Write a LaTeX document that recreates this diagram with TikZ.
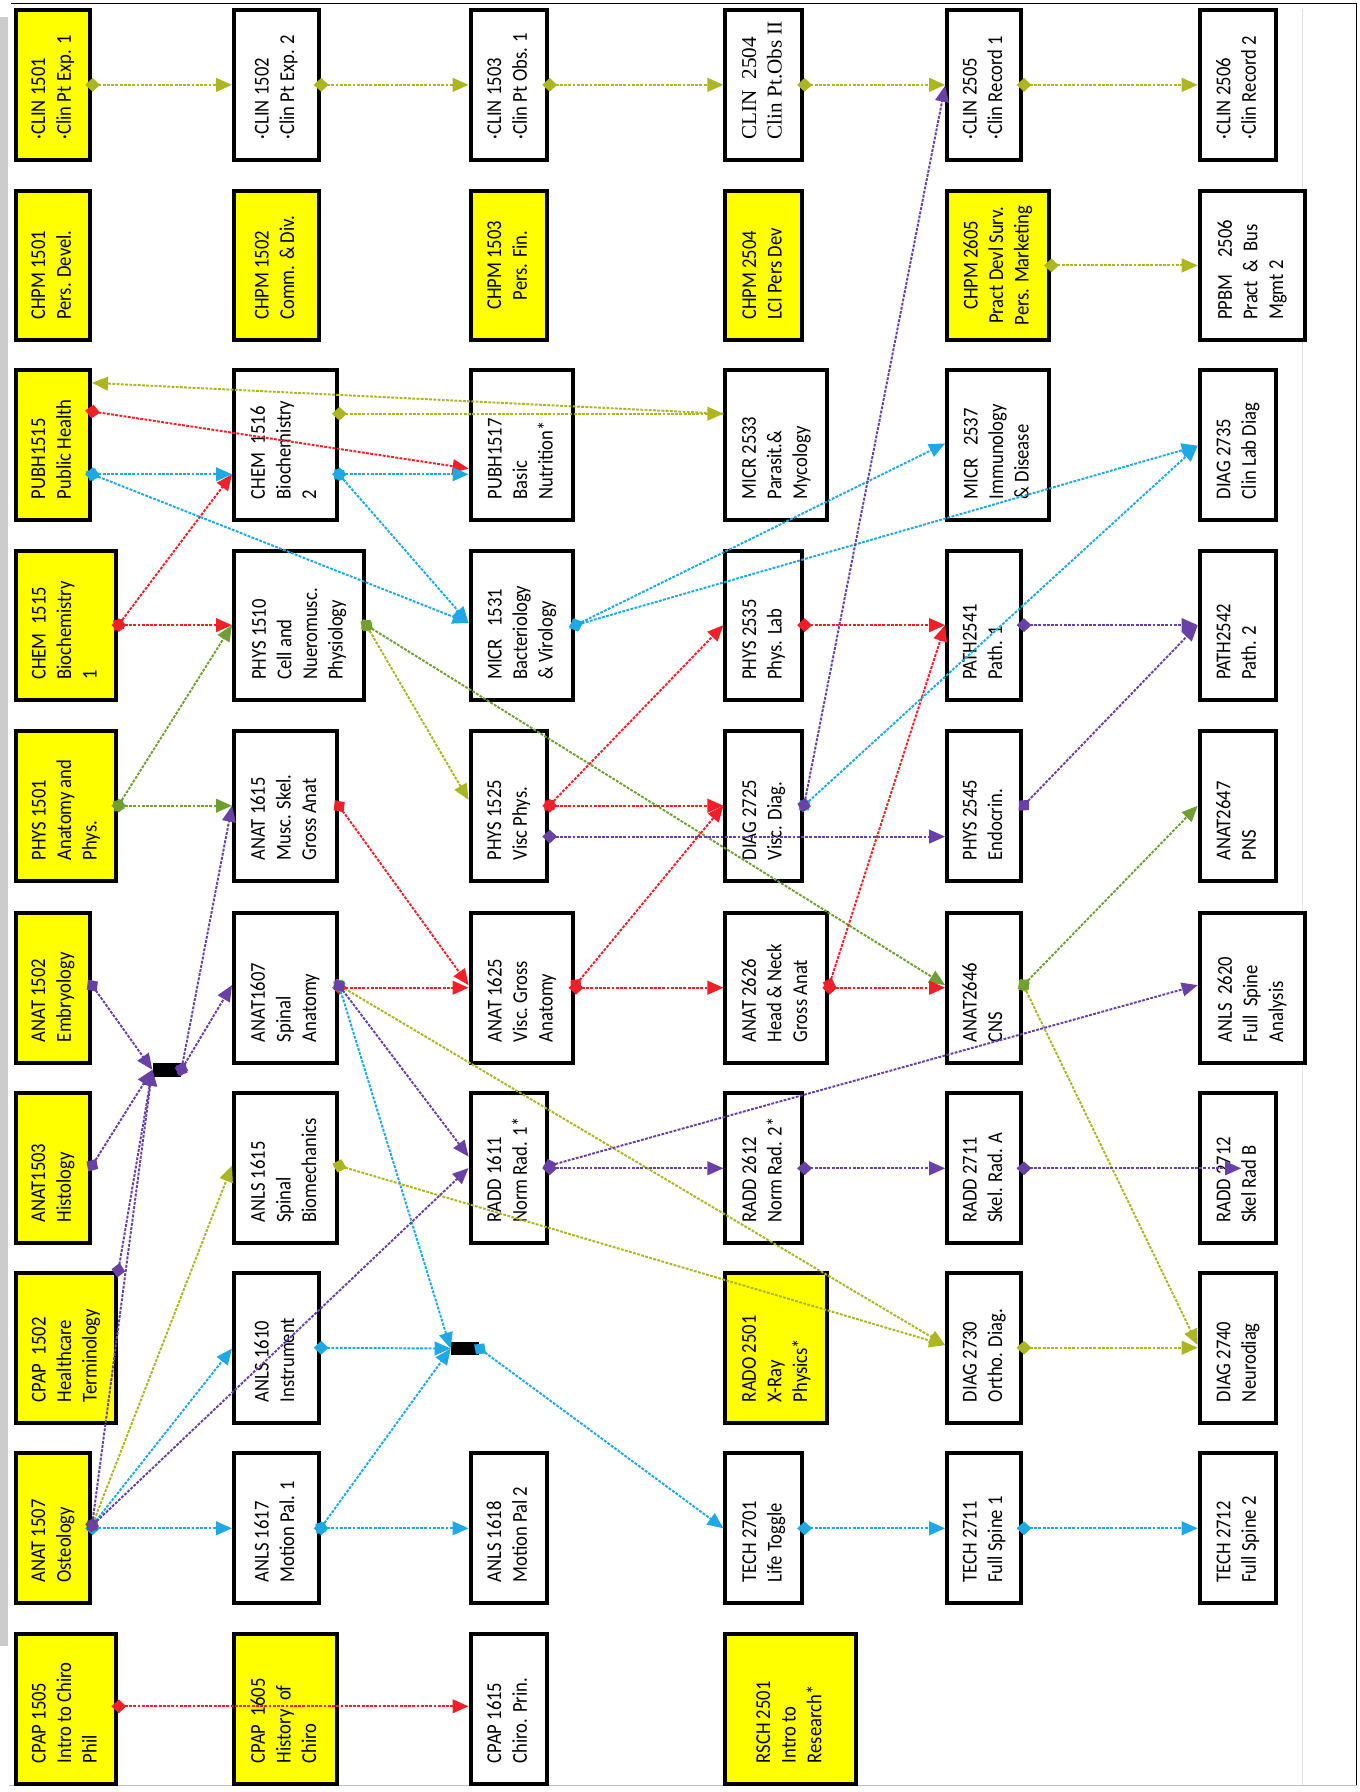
\documentclass[tikz,border=0pt]{standalone}
\usepackage{fontspec}
\setmainfont{Carlito}[FakeStretch=0.88]
\newfontfamily\timesf{Liberation Serif}
\usepackage{graphicx}
\usetikzlibrary{arrows.meta,calc}
\definecolor{cO}{RGB}{172,182,32}
\definecolor{cG}{RGB}{112,160,52}
\definecolor{cR}{RGB}{240,32,40}
\definecolor{cC}{RGB}{30,168,228}
\definecolor{cP}{RGB}{104,64,166}
\definecolor{yel}{RGB}{255,255,0}
\newcommand{\txl}[1]{\rotatebox{90}{\makebox[95pt][l]{\begin{tabular}{@{}l@{}}#1\end{tabular}}}}
\newcommand{\txc}[1]{\rotatebox{90}{\makebox[95pt][c]{\begin{tabular}{@{}c@{}}#1\end{tabular}}}}
\tikzset{
  box/.style={draw=black, line width=3.5pt, fill=white, anchor=north west,
    minimum height=131pt, inner sep=0pt, font=\fontsize{18.5}{22.4}\selectfont},
  yb/.style={box, fill=yel},
  cn/.style={line width=1.7pt, dash pattern=on 2.5pt off 1.2pt, shorten <=-6pt,
    {Diamond[length=13pt,width=12pt]}-{Triangle[length=14pt,width=12pt]}},
  ce/.style={line width=1.7pt, dash pattern=on 2.5pt off 1.2pt,
    -{Triangle[length=14pt,width=12pt]}},
  jn/.style={fill=black, minimum width=25pt, minimum height=12pt, inner sep=0pt}
}
\begin{document}
\begin{tikzpicture}[x=1pt,y=-1pt]
\fill[white] (0,0) rectangle (1190,1568);
\useasboundingbox (0,0) rectangle (1190,1568);
% frame
\fill[gray!40] (0,15) rectangle (7,1440);
\draw[gray!25, line width=1pt] (1140,8) -- (1140,1562);
\draw[gray!50, line width=1pt] (8,1562) -- (1187,1562);
\draw[line width=1.5pt] (10,3) -- (1187,3) -- (1187,1562);

% column A
\node[yb, minimum width=65pt] (clin1501) at (12,7) {\txl{·CLIN 1501\\·Clin Pt Exp. 1}};
\node[yb, minimum width=65pt] (chpm1501) at (12,165) {\txl{CHPM 1501\\Pers. Devel.}};
\node[yb, minimum width=65pt] (pubh1515) at (12,322) {\txl{PUBH1515\\Public Health}};
\node[yb, minimum width=88pt] (chem1515) at (12,480) {\txl{CHEM\ \ 1515\\Biochemistry\\1}};
\node[yb, minimum width=88pt] (phys1501) at (12,638) {\txl{PHYS 1501\\Anatomy and\\Phys.}};
\node[yb, minimum width=65pt] (anat1502) at (12,797) {\txl{ANAT 1502\\Embryology}};
\node[yb, minimum width=65pt] (anat1503) at (12,955) {\txl{ANAT1503\\Histology}};
\node[yb, minimum width=88pt] (cpap1502) at (12,1112) {\txl{CPAP\ \ 1502\\Healthcare\\Terminology}};
\node[yb, minimum width=65pt] (anat1507) at (12,1270) {\txl{ANAT 1507\\Osteology}};
\node[yb, minimum width=88pt] (cpap1505) at (12,1428) {\txl{CPAP 1505\\Intro to Chiro\\Phil}};
% column B
\node[box, minimum width=74pt] (clin1502) at (203,7) {\txl{·CLIN 1502\\·Clin Pt Exp. 2}};
\node[yb, minimum width=74pt] (chpm1502) at (203,165) {\txl{CHPM 1502\\Comm. \& Div.}};
\node[box, minimum width=90pt] (chem1516) at (203,322) {\txl{CHEM\ \ 1516\\Biochemistry\\2}};
\node[box, minimum width=114pt] (phys1510) at (203,480) {\txl{PHYS 1510\\Cell and\\Nueromusc.\\Physiology}};
\node[box, minimum width=90pt] (anat1615) at (203,638) {\txl{ANAT 1615\\Musc. Skel.\\Gross Anat}};
\node[box, minimum width=90pt] (anat1607) at (203,797) {\txl{ANAT1607\\Spinal\\Anatomy}};
\node[box, minimum width=90pt] (anls1615) at (203,955) {\txl{ANLS 1615\\Spinal\\Biomechanics}};
\node[box, minimum width=74pt] (anls1610) at (203,1112) {\txl{ANLS 1610\\Instrument}};
\node[box, minimum width=74pt] (anls1617) at (203,1270) {\txl{ANLS 1617\\Motion Pal. 1}};
\node[yb, minimum width=90pt] (cpap1605) at (203,1428) {\txl{CPAP\ \ 1605\\History\ \ of\\Chiro}};
% column C
\node[box, minimum width=67pt] (clin1503) at (410,7) {\txl{·CLIN 1503\\·Clin Pt Obs. 1}};
\node[yb, minimum width=67pt] (chpm1503) at (410,165) {\txc{CHPM 1503\\Pers. Fin.}};
\node[box, minimum width=90pt] (pubh1517) at (410,322) {\txl{PUBH1517\\Basic\\Nutrition*}};
\node[box, minimum width=90pt] (micr1531) at (410,480) {\txl{MICR\ \ \ 1531\\Bacteriology\\\& Virology}};
\node[box, minimum width=67pt] (phys1525) at (410,638) {\txl{PHYS 1525\\Visc Phys.}};
\node[box, minimum width=90pt] (anat1625) at (410,797) {\txl{ANAT 1625\\Visc.\ Gross\\Anatomy}};
\node[box, minimum width=67pt] (radd1611) at (410,955) {\txl{RADD 1611\\Norm Rad. 1*}};
\node[box, minimum width=67pt] (anls1618) at (410,1270) {\txl{ANLS 1618\\Motion Pal 2}};
\node[box, minimum width=67pt] (cpap1615) at (410,1428) {\txl{CPAP 1615\\Chiro. Prin.}};
% column D
\node[box, minimum width=67pt] (clin2504) at (633,7) {\timesf\txl{CLIN\ \ 2504\\Clin Pt.Obs II}};
\node[yb, minimum width=67pt] (chpm2504) at (633,165) {\txl{CHPM 2504\\LCI Pers Dev}};
\node[box, minimum width=89pt] (micr2533) at (633,322) {\txl{MICR 2533\\Parasit.\&\\Mycology}};
\node[box, minimum width=67pt] (phys2535) at (633,480) {\txl{PHYS 2535\\Phys. Lab}};
\node[box, minimum width=67pt] (diag2725) at (633,638) {\txl{DIAG 2725\\Visc. Diag.}};
\node[box, minimum width=89pt] (anat2626) at (633,797) {\txl{ANAT 2626\\Head \& Neck\\Gross Anat}};
\node[box, minimum width=67pt] (radd2612) at (633,955) {\txl{RADD 2612\\Norm Rad. 2*}};
\node[yb, minimum width=89pt] (rado2501) at (633,1112) {\txl{RADO 2501\\X-Ray\\Physics*}};
\node[box, minimum width=67pt] (tech2701) at (633,1270) {\txl{TECH 2701\\Life Toggle}};
\node[yb, minimum width=114pt] (rsch2501) at (633,1428) {\txl{RSCH 2501\\Intro to\\Research*}};
% column E
\node[box, minimum width=65pt] (clin2505) at (827,7) {\txl{·CLIN 2505\\·Clin Record 1}};
\node[yb, minimum width=89pt] (chpm2605) at (827,165) {\txc{CHPM 2605\\Pract Devl Surv.\\Pers. Marketing}};
\node[box, minimum width=89pt] (micr2537) at (827,322) {\txl{MICR\ \ \ 2537\\Immunology\\\& Disease}};
\node[box, minimum width=65pt] (path2541) at (827,480) {\txl{PATH2541\\Path. 1}};
\node[box, minimum width=65pt] (phys2545) at (827,638) {\txl{PHYS 2545\\Endocrin.}};
\node[box, minimum width=65pt] (anat2646) at (827,797) {\txl{ANAT2646\\CNS}};
\node[box, minimum width=65pt] (radd2711) at (827,955) {\txl{RADD 2711\\Skel. Rad. A}};
\node[box, minimum width=65pt] (diag2730) at (827,1112) {\txl{DIAG 2730\\Ortho. Diag.}};
\node[box, minimum width=65pt] (tech2711) at (827,1270) {\txl{TECH 2711\\Full Spine 1}};
% column F
\node[box, minimum width=67pt] (clin2506) at (1048,7) {\txl{·CLIN 2506\\·Clin Record 2}};
\node[box, minimum width=92pt] (ppbm2506) at (1048,165) {\txl{PPBM\ \ \ \ 2506\\Pract\ \ \&\ \ Bus\\Mgmt 2}};
\node[box, minimum width=67pt] (diag2735) at (1048,322) {\txl{DIAG 2735\\Clin Lab Diag}};
\node[box, minimum width=67pt] (path2542) at (1048,480) {\txl{PATH2542\\Path. 2}};
\node[box, minimum width=67pt] (anat2647) at (1048,638) {\txl{ANAT2647\\PNS}};
\node[box, minimum width=92pt] (anls2620) at (1048,797) {\txl{ANLS\ \ 2620\\Full\ \ Spine\\Analysis}};
\node[box, minimum width=67pt] (radd2712) at (1048,955) {\txl{RADD 2712\\Skel Rad B}};
\node[box, minimum width=67pt] (diag2740) at (1048,1112) {\txl{DIAG 2740\\Neurodiag}};
\node[box, minimum width=67pt] (tech2712) at (1048,1270) {\txl{TECH 2712\\Full Spine 2}};
% junctions
\node[jn] (j1) at (146,936) {};
\node[jn] (j2) at (407,1180) {};

% connectors: olive
\draw[cn,cO] (clin1501.east) -- (clin1502.west);
\draw[cn,cO] (clin1502.east) -- (clin1503.west);
\draw[cn,cO] (clin1503.east) -- (clin2504.west);
\draw[cn,cO] (clin2504.east) -- (clin2505.west);
\draw[cn,cO] (clin2505.east) -- (clin2506.west);
\draw[cn,cO] (chpm2605.east) -- (ppbm2506.west);
\draw[ce,cO] (micr2533.west |- 0,362) -- (pubh1515.east |- 0,335);
\draw[cn,cO] (chem1516.east |- 0,362) -- (micr2533.west |- 0,362);
\draw[cn,cO] (phys1510.east |- 0,547) -- (phys1525.west |- 0,700);
\draw[cn,cO] (anat2646.east |- 0,862) -- (diag2740.west |- 0,1177);
\draw[cn,cO] (anat1607.east |- 0,862) -- (diag2730.west |- 0,1177);
\draw[cn,cO] (anls1615.east |- 0,1020) -- (diag2730.west |- 0,1177);
\draw[cn,cO] (anat1507.east |- 0,1335) -- (anls1615.west |- 0,1020);
\draw[cn,cO] (diag2730.east) -- (diag2740.west);
% green
\draw[cn,cG] (phys1510.east |- 0,547) -- (anat2646.west |- 0,862);
\draw[cn,cG] (phys1501.east |- 0,705) -- (phys1510.west |- 0,547);
\draw[cn,cG] (phys1501.east |- 0,705) -- (anat1615.west |- 0,705);
\draw[cn,cG] (anat2646.east |- 0,862) -- (anat2647.west |- 0,705);
% red
\draw[cn,cR] (pubh1515.east |- 0,360) -- (pubh1517.west |- 0,410);
\draw[cn,cR] (chem1515.east |- 0,547) -- (chem1516.west |- 0,415);
\draw[cn,cR] (chem1515.east |- 0,547) -- (phys1510.west |- 0,547);
\draw[cn,cR] (phys2535.east |- 0,547) -- (path2541.west |- 0,547);
\draw[cn,cR] (anat1615.east |- 0,705) -- (anat1625.west |- 0,862);
\draw[cn,cR] (phys1525.east |- 0,705) -- (phys2535.west |- 0,547);
\draw[cn,cR] (phys1525.east |- 0,705) -- (diag2725.west |- 0,705);
\draw[cn,cR] (anat1625.east |- 0,862) -- (diag2725.west |- 0,705);
\draw[cn,cR] (anat1625.east) -- (anat2626.west);
\draw[cn,cR] (anat2626.east |- 0,862) -- (path2541.west |- 0,547);
\draw[cn,cR] (anat2626.east) -- (anat2646.west);
\draw[cn,cR] (anat1607.east) -- (anat1625.west);
\draw[cn,cR] (cpap1505.east |- 0,1493) -- (cpap1615.west |- 0,1493);
% cyan
\draw[cn,cC] (pubh1515.east |- 0,415) -- (chem1516.west |- 0,415);
\draw[cn,cC] (pubh1515.east |- 0,415) -- (micr1531.west |- 0,545);
\draw[cn,cC] (chem1516.east |- 0,415) -- (pubh1517.west |- 0,415);
\draw[cn,cC] (chem1516.east |- 0,415) -- (micr1531.west |- 0,545);
\draw[cn,cC] (micr1531.east |- 0,547) -- (micr2537.west |- 0,388);
\draw[cn,cC] (micr1531.east |- 0,547) -- (diag2735.west |- 0,390);
\draw[cn,cC] (diag2725.east |- 0,705) -- (diag2735.west |- 0,390);
\draw[cn,cC] (anat1607.east |- 0,862) -- (j2.west);
\draw[cn,cC] (anat1507.east |- 0,1335) -- (anls1610.west |- 0,1180);
\draw[cn,cC] (anat1507.east) -- (anls1617.west);
\draw[cn,cC] (anls1610.east) -- (j2.west);
\draw[cn,cC] (anls1617.east) -- (j2.west);
\draw[cn,cC] (anls1617.east) -- (anls1618.west);
\draw[cn,cC] (j2.east) -- (tech2701.west);
\draw[cn,cC] (tech2701.east) -- (tech2711.west);
\draw[cn,cC] (tech2711.east) -- (tech2712.west);
% purple
\draw[cn,cP] (diag2725.east |- 0,705) -- (clin2505.west |- 0,75);
\draw[cn,cP] (path2541.east |- 0,547) -- (path2542.west |- 0,547);
\draw[cn,cP] (phys2545.east |- 0,705) -- (path2542.west |- 0,547);
\draw[cn,cP] (phys1525.east |- 0,732) -- (phys2545.west |- 0,732);
\draw[cn,cP] (anat1502.east |- 0,862) -- (j1.west);
\draw[cn,cP] (anat1503.east |- 0,1020) -- (j1.west);
\draw[cn,cP] (cpap1502.north east) -- (j1.west);
\draw[cn,cP] (anat1507.east |- 0,1335) -- (j1.west);
\draw[cn,cP] (j1.east) -- (anat1615.west |- 0,705);
\draw[cn,cP] (j1.east) -- (anat1607.west |- 0,862);
\draw[cn,cP] (anat1607.east |- 0,862) -- (radd1611.west |- 0,1012);
\draw[cn,cP] (anat1507.east |- 0,1335) -- (radd1611.west |- 0,1022);
\draw[cn,cP] (radd1611.east) -- (radd2612.west);
\draw[cn,cP] (radd1611.east |- 0,1020) -- (anls2620.west |- 0,862);
\draw[cn,cP] (radd2612.east) -- (radd2711.west);
\draw[cn,cP] (radd2711.east) -- ([xshift=38pt]radd2712.west);
\end{tikzpicture}
\end{document}
